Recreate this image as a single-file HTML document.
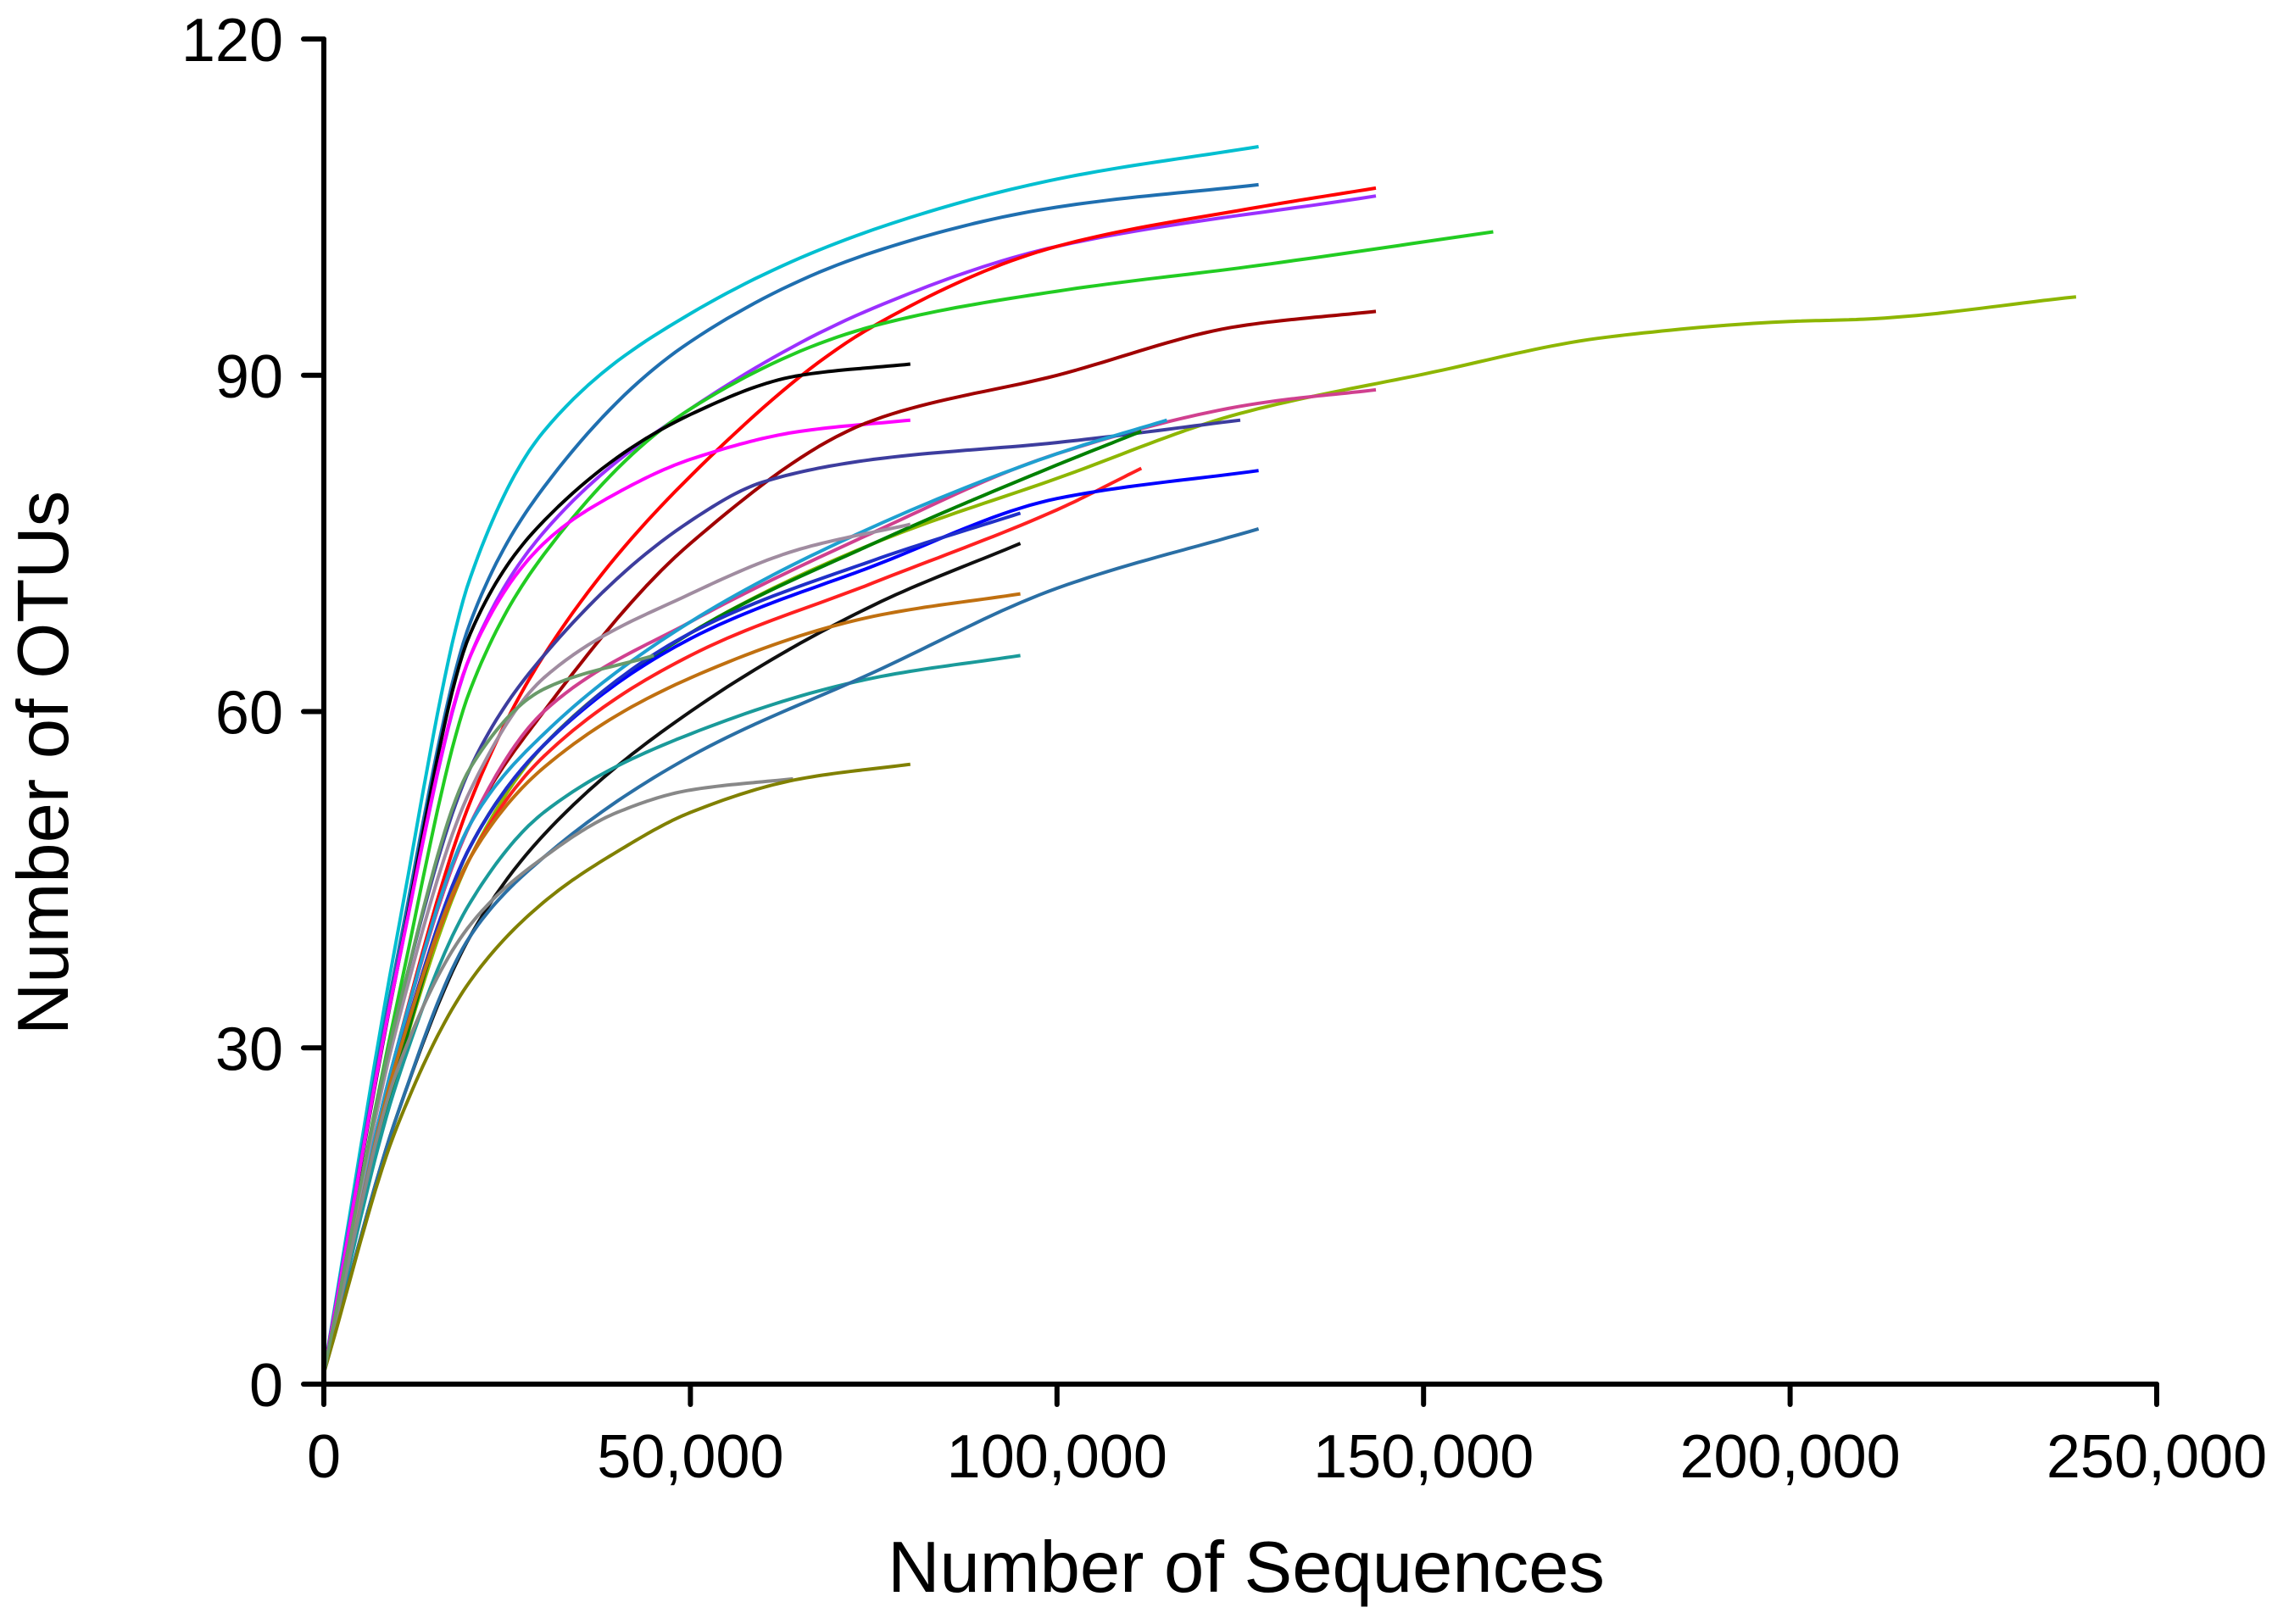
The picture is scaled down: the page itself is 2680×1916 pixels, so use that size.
<!DOCTYPE html>
<html><head><meta charset="utf-8"><style>
html,body{margin:0;padding:0;background:#fff;}
svg{display:block;font-family:"Liberation Sans",Arial,sans-serif;}
</style></head><body>
<svg id="chart" width="2680" height="1916" viewBox="0 0 2680 1916" xmlns="http://www.w3.org/2000/svg">
<g id="curves"></g>
<g id="axes"></g>
</svg>
<script>
const xTicks = [0, 50000, 100000, 150000, 200000, 250000];
const xTickLabels = ["0", "50,000", "100,000", "150,000", "200,000", "250,000"];
const yTicks = [0, 30, 60, 90, 120];
const yTickLabels = ["0", "30", "60", "90", "120"];
const seriesColors = ["#00BFD0","#1F6FB0","#9B30FF","#FF0000","#22CC22","#000000","#FF00FF","#A00000","#8DB600","#D0408F","#3D3D9E","#1EA0D0","#008000","#FF2020","#0000FF","#2030C8","#101010","#A08CA0","#C07010","#1A9A9A","#2A6FA5","#888888","#808000","#6A9A6A"];
const seriesX = [
 [0,10,20,30,50,75,100,127.5],
 [0,10,20,30,50,75,100,127.5],
 [0,10,20,30,50,75,100,143.5],
 [0,10,20,30,50,75,100,127.5,143.5],
 [0,10,20,30,50,75,100,127.5,159.5],
 [0,10,20,30,50,65,80],
 [0,10,20,30,40,50,65,80],
 [0,10,20,30,50,75,100,125,143.5],
 [0,10,20,30,50,75,100,125,150,175,200,210,239],
 [0,10,20,30,50,75,100,127.5,143.5],
 [0,10,20,30,50,60,75,100,125],
 [0,10,20,30,50,75,100,115],
 [0,10,20,30,50,75,100,111.5],
 [0,10,20,30,50,75,100,111.5],
 [0,10,20,30,50,75,100,127.5],
 [0,10,20,30,50,75,95],
 [0,10,20,30,50,75,95],
 [0,10,20,30,50,65,80],
 [0,10,20,30,50,75,95],
 [0,10,20,30,50,75,95],
 [0,10,20,30,50,75,100,127.5],
 [0,10,20,30,40,50,64],
 [0,10,20,30,40,50,65,80],
 [0,10,20,30,45]
];
const seriesY = [
 [1,40,72,85,95.5,103,107.5,110.4],
 [1,38,68,80,93,101,105,107],
 [1,37,65,76,87,96,101.5,106],
 [1,30,52,65,81,94.4,101.5,105,106.7],
 [1,34,62,74,87,94.4,97.5,99.8,102.8],
 [1,37,67,77,86.5,90,91],
 [1,37,65,75,79.5,82.5,85,86],
 [1,30,50,60,75,86,90,94.4,95.7],
 [1,28,47,57,67,75,80.8,86.6,90.1,93.4,94.8,95,97],
 [1,30,50,60,68,76,83,87.5,88.7],
 [1,33,55,65,77,80.5,82.5,84,86],
 [1,30,50,58,68,76.5,83,86],
 [1,28,48,57,67,75,82,85],
 [1,29,47,56,65,71.5,78,81.7],
 [1,29,48,57,66.5,73,79,81.5],
 [1,29,48,57,67,73.5,77.7],
 [1,24,40,49,60,69.5,75],
 [1,32,53,63,70.5,74.5,76.7],
 [1,29,47,55,63,68.5,70.5],
 [1,27,43,51,58,63,65],
 [1,24,40,47,56,63.5,71,76.3],
 [1,28,41,47,51,53,54],
 [1,23,36,43,47.5,51,54,55.3],
 [1,33,55,62,65]
];
const X0=382, X1=2544, Y0=1633, Y1=46;
const xScale = v => X0 + (v/250000)*(X1-X0);
const yScale = v => Y0 - (v/120)*(Y0-Y1);
const NS="http://www.w3.org/2000/svg";
const curves=document.getElementById('curves');
const axes=document.getElementById('axes');
// monotone cubic (Fritsch-Carlson) interpolation in data space
function monotone(xs,ys){
  const n=xs.length, d=[], m=new Array(n);
  for(let i=0;i<n-1;i++) d.push((ys[i+1]-ys[i])/(xs[i+1]-xs[i]));
  m[0]=d[0]; m[n-1]=d[n-2];
  for(let i=1;i<n-1;i++){
    if(d[i-1]*d[i]<=0) m[i]=0;
    else { const w1=2*(xs[i+1]-xs[i])+(xs[i]-xs[i-1]), w2=(xs[i+1]-xs[i])+2*(xs[i]-xs[i-1]);
      m[i]=(w1+w2)/(w1/d[i-1]+w2/d[i]); }
  }
  const out=[];
  for(let i=0;i<n-1;i++){
    const h=xs[i+1]-xs[i], steps=20;
    for(let k=(i===0?0:1);k<=steps;k++){
      const t=k/steps, t2=t*t, t3=t2*t;
      const y=(2*t3-3*t2+1)*ys[i]+(t3-2*t2+t)*h*m[i]+(-2*t3+3*t2)*ys[i+1]+(t3-t2)*h*m[i+1];
      out.push([xs[i]+t*h,y]);
    }
  }
  return out;
}
seriesX.forEach((xs,i)=>{
  const pts=monotone(xs,seriesY[i]).map(p=>[xScale(p[0]*1000), yScale(p[1])]);
  const d="M"+pts.map(p=>p[0].toFixed(1)+","+p[1].toFixed(1)).join(" L");
  const p=document.createElementNS(NS,'path');
  p.setAttribute('d',d);
  p.setAttribute('fill','none');
  p.setAttribute('stroke',seriesColors[i]);
  p.setAttribute('stroke-width','4');
  p.setAttribute('stroke-linejoin','round');
  
  
  curves.appendChild(p);
});
function line(x1,y1,x2,y2,name){
  const l=document.createElementNS(NS,'line');
  l.setAttribute('x1',x1);l.setAttribute('y1',y1);l.setAttribute('x2',x2);l.setAttribute('y2',y2);
  l.setAttribute('stroke','#000');l.setAttribute('stroke-width','6');l.setAttribute('stroke-linecap','round');
  
  
  axes.appendChild(l);
}
function text(x,y,s,size,anchor,name,rot){
  const t=document.createElementNS(NS,'text');
  t.setAttribute('x',x);t.setAttribute('y',y);t.setAttribute('font-size',size);t.setAttribute('text-anchor',anchor);
  if(rot) t.setAttribute('transform','rotate(-90 '+x+' '+y+')');
  t.textContent=s;
  
  
  axes.appendChild(t);
}
line(X0,Y1,X0,Y0,'y-axis-line');
line(X0,Y0,X1,Y0,'x-axis-line');
xTicks.forEach((v,i)=>{
  const x=xScale(v);
  line(x,Y0,x,Y0+24,'x-tick');
  text(x,Y0+110,xTickLabels[i],72,'middle','x-tick-label');
});
yTicks.forEach((v,i)=>{
  const y=yScale(v);
  line(X0-24,y,X0,y,'y-tick');
  text(X0-48,y+26,yTickLabels[i],72,'end','y-tick-label');
});
text(1470,1878,'Number of Sequences',85,'middle','x-axis-title');
text(80,900,'Number of OTUs',85,'middle','y-axis-title',true);
</script>
</body></html>
